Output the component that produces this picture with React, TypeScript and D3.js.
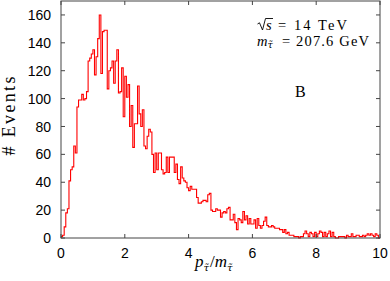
import React from 'react';
import * as d3 from 'd3';

const WIDTH = 390;
const HEIGHT = 281;
const MARGIN = { top: 1, right: 10, bottom: 43, left: 61 };

// histogram: bins of 0.05 from 0 to 10
const binWidth = 0.05;
const counts = [
    1, 2, 8, 18, 21, 41, 49, 51, 66, 61,
    94, 99, 99, 103, 99, 100, 105, 127, 129, 132,
    135, 117, 130, 143, 160, 118, 148, 149, 149, 107,
    120, 122, 127, 111, 127, 135, 104, 105, 122, 87,
    116, 101, 110, 80, 95, 65, 82, 82, 109, 89,
    80, 92, 66, 64, 73, 78, 76, 60, 47, 61,
    49, 61, 61, 49, 46, 47, 58, 47, 58, 58,
    58, 47, 53, 42, 39, 51, 43, 41, 40, 36,
    34, 37, 35, 35, 35, 29, 25, 25, 26, 27,
    27, 26, 31, 32, 20, 19, 19, 21, 20, 20,
    15, 18, 19, 18, 21, 22, 13, 13, 17, 11,
    6, 14, 13, 11, 19, 13, 16, 10, 14, 10,
    10, 13, 7, 14, 9, 7, 9, 12, 15, 9,
    8, 8, 9, 8, 7, 7, 7, 6, 6, 4,
    6, 3, 4, 2, 2, 2, 1, 1, 1, 0,
    1, 1, 3, 5, 3, 1, 4, 3, 1, 4,
    1, 3, 5, 4, 1, 4, 1, 3, 5, 1,
    4, 1, 0, 0, 1, 1, 1, 1, 0, 2,
    1, 1, 3, 1, 1, 2, 2, 1, 1, 2,
    1, 2, 3, 2, 3, 2, 1, 3, 2, 0,
];

const xTicks = [0, 2, 4, 6, 8, 10];
const yTicks = [0, 20, 40, 60, 80, 100, 120, 140, 160];
const xDomain = [0, 10];
const yDomain = [0, 170];

const SANS = '"Liberation Sans", Arial, sans-serif';
const SERIF = '"Liberation Serif", "Times New Roman", serif';
const DJV = '"DejaVu Serif", serif';
const AXIS = '#444';
const TICK = 4;

export default function App() {
    const plotW = WIDTH - MARGIN.left - MARGIN.right;
    const plotH = HEIGHT - MARGIN.top - MARGIN.bottom;

    const x = d3.scaleLinear().domain(xDomain).range([MARGIN.left, MARGIN.left + plotW]);
    const y = d3.scaleLinear().domain(yDomain).range([MARGIN.top + plotH, MARGIN.top]);

    const pts: [number, number][] = counts.map((c, i) => [i * binWidth, c]);
    pts.push([counts.length * binWidth, counts[counts.length - 1]]);

    const line = d3
        .line<[number, number]>()
        .x((d) => x(d[0]))
        .y((d) => y(d[1]))
        .curve(d3.curveStepAfter);

    const x0 = x(xDomain[0]);
    const x1 = x(xDomain[1]);
    const y0 = y(yDomain[0]);
    const y1 = y(yDomain[1]);

    return (
        <svg
            width={WIDTH}
            height={HEIGHT}
            style={{ position: 'absolute', left: 0, top: 0, background: '#fff' }}
        >
            <path d={line(pts) || ''} fill="none" stroke="#ff0000" strokeWidth={1.1} />

            {/* frame */}
            <rect x={x0} y={y1} width={x1 - x0} height={y0 - y1} fill="none" stroke={AXIS} strokeWidth={1} />

            {/* ticks, all four sides, pointing in */}
            {xTicks.map((t) => (
                <g key={'x' + t}>
                    <line x1={x(t)} x2={x(t)} y1={y0} y2={y0 - TICK} stroke={AXIS} />
                    <line x1={x(t)} x2={x(t)} y1={y1} y2={y1 + TICK} stroke={AXIS} />
                    <text x={x(t)} y={258} textAnchor="middle" fontFamily={SANS} fontSize={14} fill="#000">
                        {t}
                    </text>
                </g>
            ))}
            {yTicks.map((t) => (
                <g key={'y' + t}>
                    <line x1={x0} x2={x0 + TICK} y1={y(t)} y2={y(t)} stroke={AXIS} />
                    <line x1={x1} x2={x1 - TICK} y1={y(t)} y2={y(t)} stroke={AXIS} />
                    <text
                        x={51}
                        y={y(t)}
                        dy="0.36em"
                        textAnchor="end"
                        fontFamily={SANS}
                        fontSize={14}
                        fill="#000"
                    >
                        {t}
                    </text>
                </g>
            ))}

            {/* axis titles */}
            <text
                transform="translate(15,116) rotate(-90)"
                textAnchor="middle"
                fontFamily={SERIF}
                fontSize={18}
                textLength={79}
                lengthAdjust="spacing"
            >
                # Events
            </text>
            <text x={195} y={267} fontFamily={SERIF} fontSize={17} fontStyle="italic">
                p
                <tspan dy={4} fontSize={10} fontFamily={DJV}>τ̃</tspan>
                <tspan dy={-4} dx={1} fontStyle="normal">/</tspan>
                <tspan>m</tspan>
                <tspan dy={4} fontSize={10} fontFamily={DJV}>τ̃</tspan>
            </text>

            {/* annotations: radical sign drawn as a path */}
            <path
                d="M257.5,24 L259.5,22.8 L262.5,30 L265.5,18.5 L273,18.5"
                fill="none"
                stroke="#000"
                strokeWidth={0.9}
            />
            <text x={266} y={29.5} fontFamily={SERIF} fontSize={14.5} fontStyle="italic">
                s
            </text>
            <text x={278} y={29.5} fontFamily={SERIF} fontSize={14.5} textLength={69} lengthAdjust="spacing">
                = 14 TeV
            </text>
            <text y={45.5} fontFamily={SERIF} fontSize={14.5}>
                <tspan x={257} fontStyle="italic">m</tspan>
                <tspan dy={2} fontSize={9.5} fontStyle="italic" fontFamily={DJV}>τ̃</tspan>
            </text>
            <text x={282} y={45.5} fontFamily={SERIF} fontSize={14.5} textLength={87} lengthAdjust="spacing">
                = 207.6 GeV
            </text>
            <text x={295} y={97} fontFamily={SERIF} fontSize={16}>
                B
            </text>
        </svg>
    );
}
